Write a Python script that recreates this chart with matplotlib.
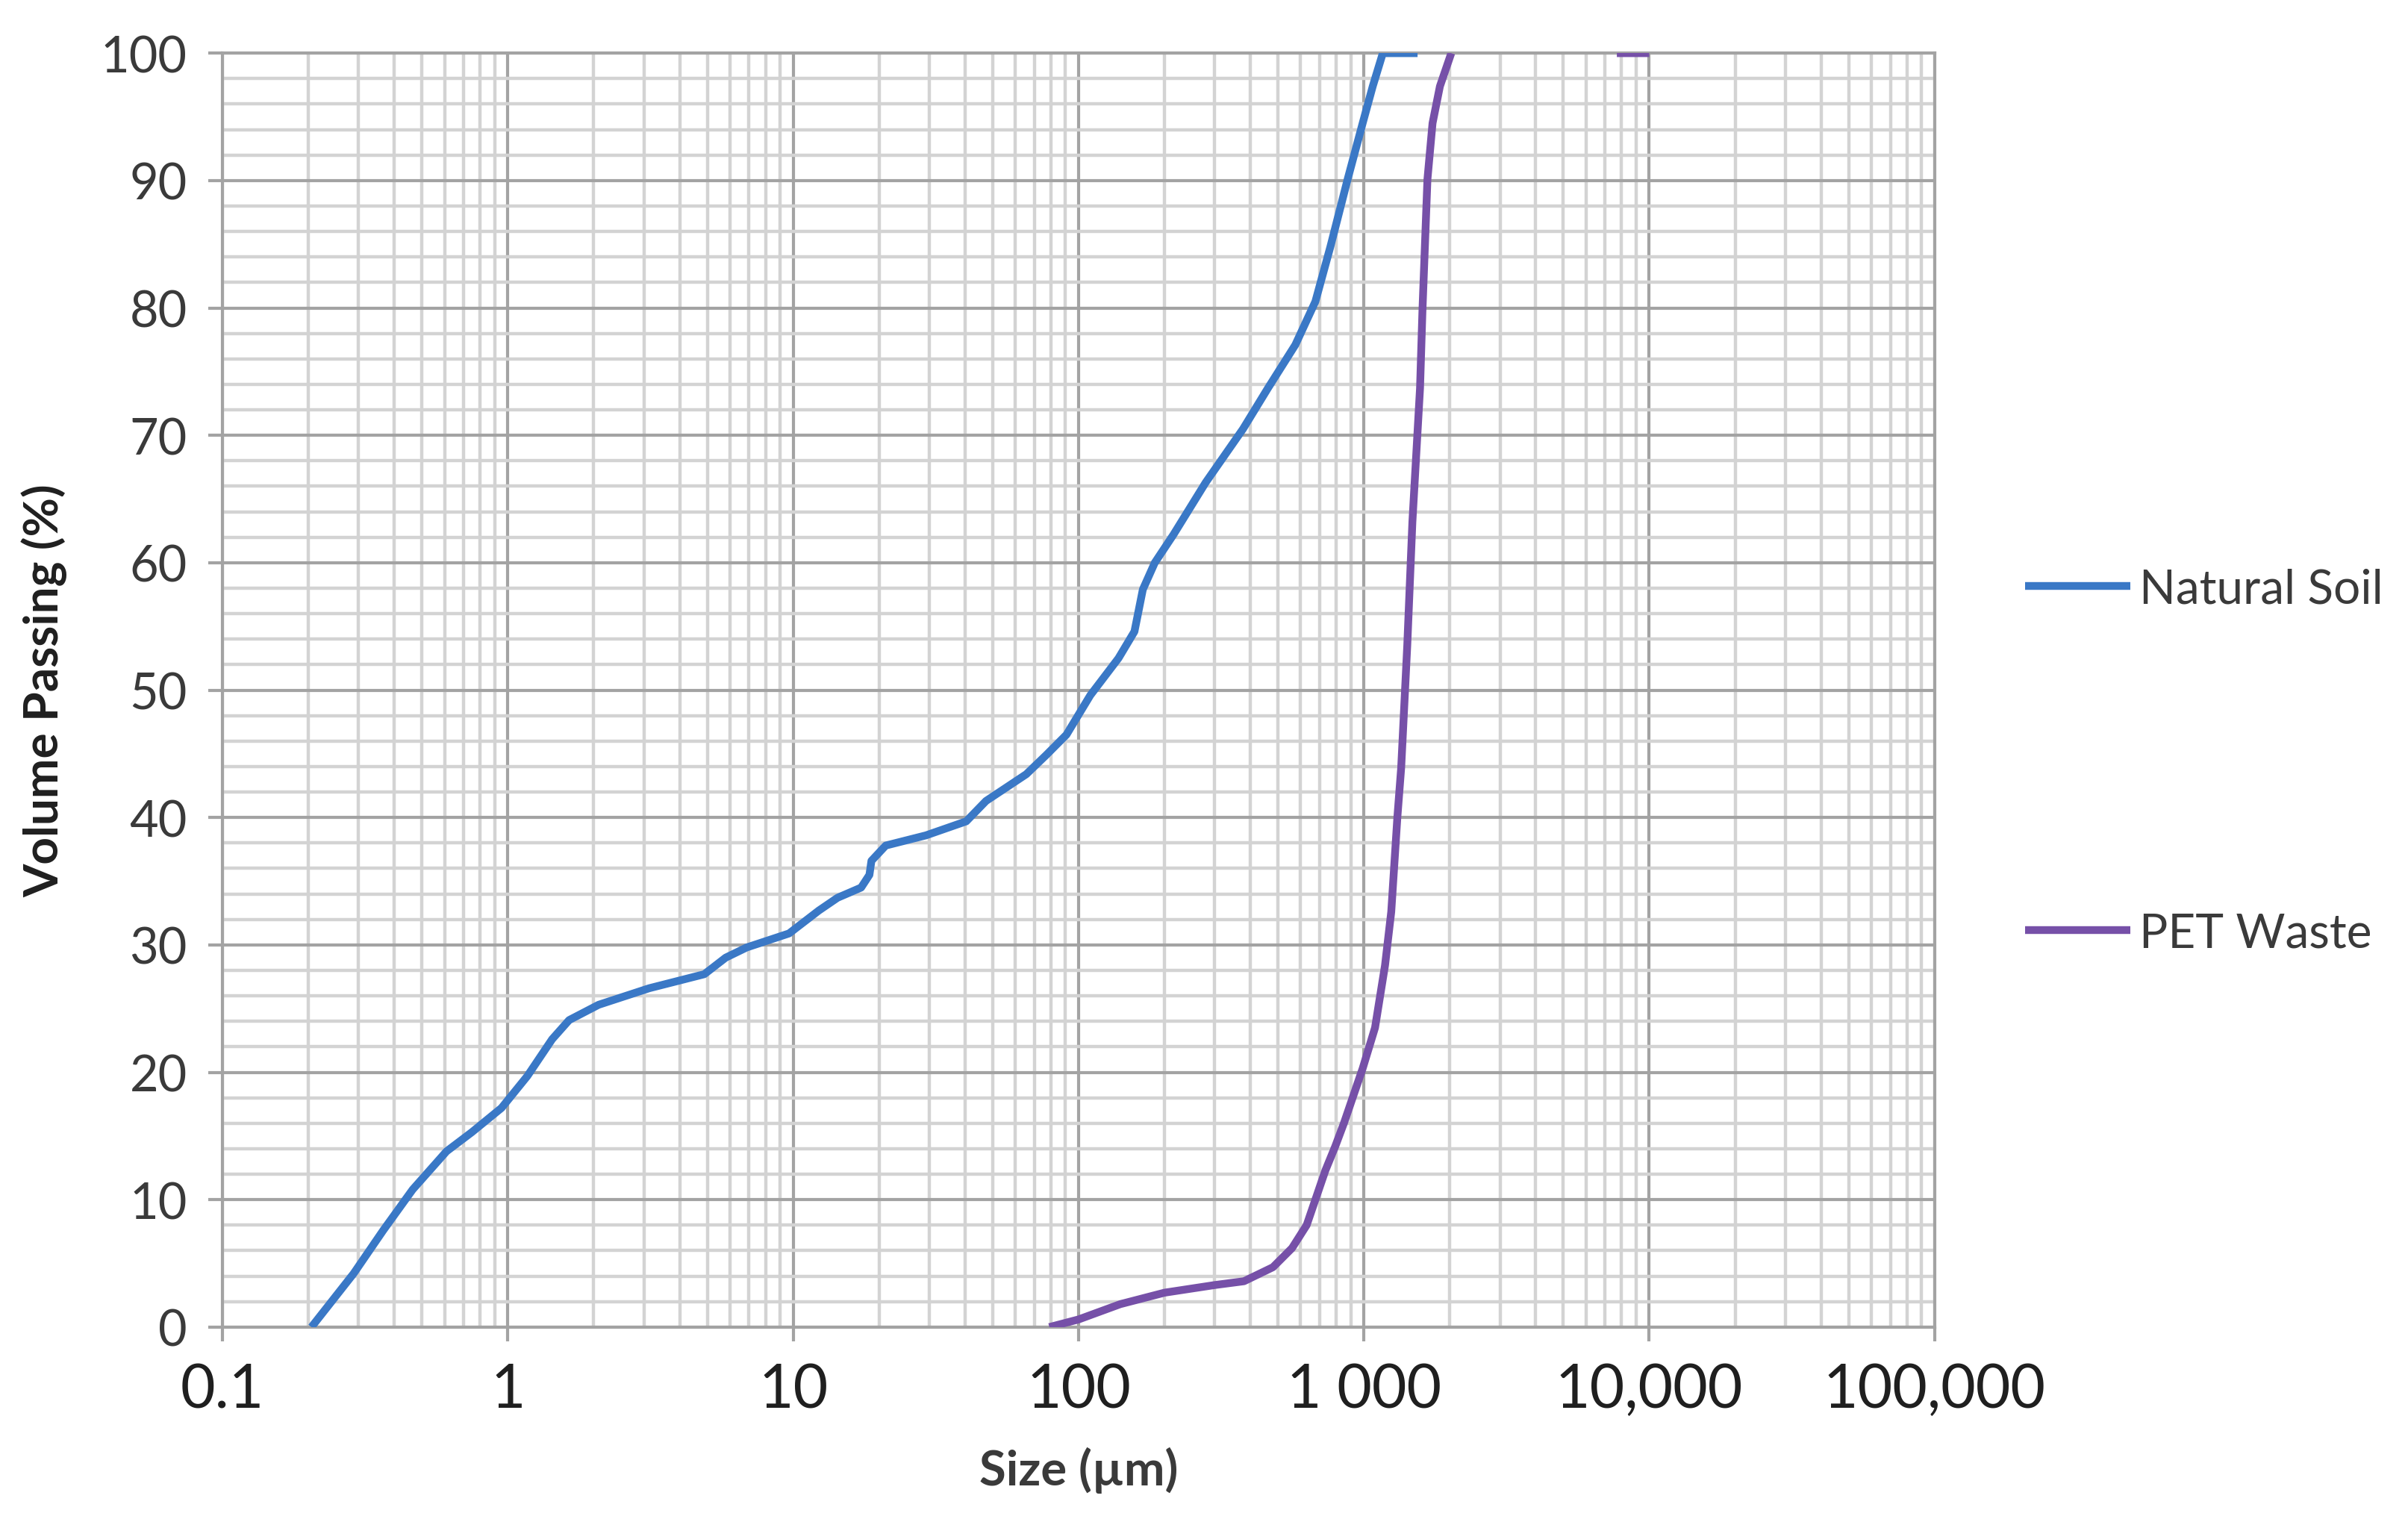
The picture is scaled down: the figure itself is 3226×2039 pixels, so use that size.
import numpy as np
import matplotlib
matplotlib.use("Agg")
import matplotlib.pyplot as plt
from matplotlib.ticker import FixedLocator, LogLocator, MultipleLocator, NullFormatter

plt.rcParams['font.family'] = ['Lato', 'DejaVu Sans']

# ---- data ----
soil_size = [0.205, 0.288, 0.366, 0.464, 0.61, 0.748, 0.95, 1.17, 1.43, 1.64, 2.08, 3.13,
             4.88, 5.8, 6.87, 9.67, 12.3, 14.3, 17.3, 18.5, 18.8, 21.1, 29.2, 40.4, 47.4,
             65.6, 77, 90.7, 110, 138, 157, 168, 185, 215, 279, 377, 461, 575, 676, 763,
             877, 990, 1074, 1165, 1542]
soil_pass = [0, 4.2, 7.6, 10.8, 13.8, 15.3, 17.2, 19.7, 22.6, 24.1, 25.3, 26.6,
             27.7, 29, 29.8, 30.9, 32.7, 33.7, 34.5, 35.5, 36.6, 37.8, 38.6, 39.7, 41.3,
             43.4, 44.9, 46.5, 49.6, 52.5, 54.6, 57.9, 60, 62.2, 66.3, 70.5, 73.7, 77.1, 80.5, 84.8,
             90.1, 94.5, 97.4, 100, 100]

pet_size = [79, 100, 140, 200, 300, 380, 480, 560, 630, 676, 733, 794, 851, 990, 1094,
            1186, 1247, 1310, 1351, 1419, 1479, 1573, 1604, 1670, 1740, 1847, 2024,
            np.nan, 7700, 10000]
pet_pass = [0, 0.6, 1.8, 2.7, 3.3, 3.6, 4.7, 6.2, 8.0, 10.0, 12.3, 14.2, 16.0, 20.3, 23.5,
            28.4, 32.6, 40, 43.9, 53.5, 63.2, 73.7, 79.8, 90.1, 94.5, 97.4, 100,
            np.nan, 100, 100]

series_names = ["Natural Soil", "PET Waste"]
series_colors = ["#3A78C6", "#7650A8"]

x_ticks = [0.1, 1, 10, 100, 1000, 10000, 100000]
x_tick_labels = ["0.1", "1", "10", "100", "1 000", "10,000", "100,000"]
y_ticks = list(range(0, 101, 10))

# ---- figure ----
fig = plt.figure(figsize=(32.26, 20.40), dpi=100)
ax = fig.add_axes([0.0924, 0.128, 0.711, 0.8366])

major_col = "#a3a3a3"
minor_col = "#d3d3d3"

ax.plot(soil_size, soil_pass, color=series_colors[0], lw=7.5, label=series_names[0],
        solid_capstyle='butt', solid_joinstyle='round', zorder=3)
ax.plot(pet_size, pet_pass, color=series_colors[1], lw=7.5, label=series_names[1],
        solid_capstyle='butt', solid_joinstyle='round', zorder=3)

ax.set_xscale('log')
ax.set_xlim(0.1, 100000)
ax.set_ylim(0, 100)

ax.xaxis.set_major_locator(FixedLocator(x_ticks))
ax.set_xticklabels(x_tick_labels)
ax.xaxis.set_minor_locator(LogLocator(base=10, subs=np.arange(2, 10), numticks=100))
ax.xaxis.set_minor_formatter(NullFormatter())
ax.set_yticks(y_ticks)
ax.yaxis.set_minor_locator(MultipleLocator(2))

ax.grid(which='minor', color=minor_col, lw=3.2, zorder=0)
ax.grid(which='major', color=major_col, lw=3.0, zorder=1)
ax.set_axisbelow(True)

for s in ax.spines.values():
    s.set_color(major_col)
    s.set_linewidth(3.0)

ax.tick_params(axis='both', which='major', length=14, width=3.0, color=major_col)
ax.tick_params(axis='both', which='minor', length=0)
ax.tick_params(axis='x', which='major', labelsize=58, pad=20, labelcolor='#1f1f1f')
ax.tick_params(axis='y', which='major', labelsize=48, pad=20, labelcolor='#3a3a3a')

ax.set_xlabel("Size (µm)", fontsize=47, fontweight='bold', color='#3a3a3a', labelpad=28)
ax.set_ylabel("Volume Passing (%)", fontsize=46, fontweight='bold', color='#1f1f1f', labelpad=32)

leg = fig.legend(loc='center left', bbox_to_anchor=(0.841, 0.4995), frameon=False,
                 fontsize=46, handlelength=2.2, handletextpad=0.2, labelspacing=6.3,
                 borderpad=0, borderaxespad=0)
for t in leg.get_texts():
    t.set_color('#3a3a3a')

fig.savefig("out.png", dpi=100, facecolor='white')
